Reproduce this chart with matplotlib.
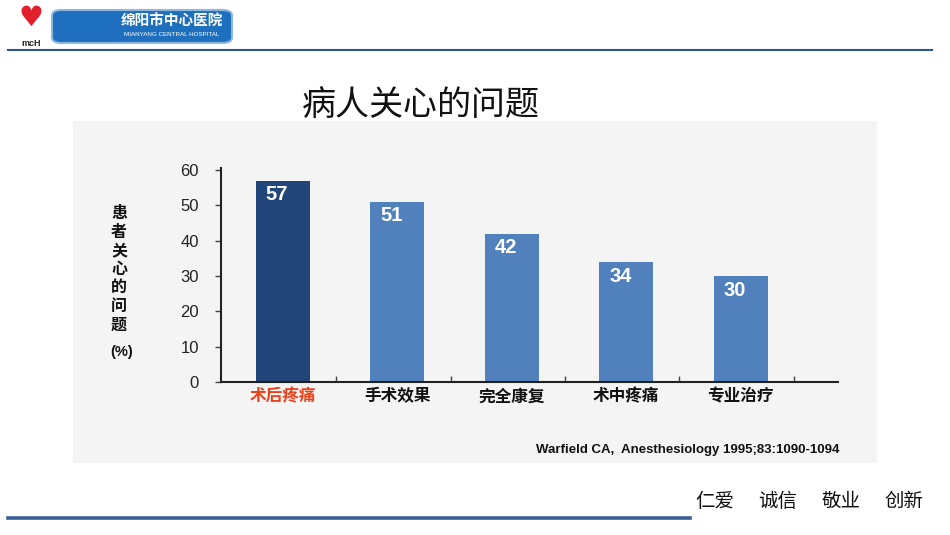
import matplotlib
matplotlib.use("Agg")
import matplotlib.pyplot as plt
from matplotlib.patches import Rectangle, FancyBboxPatch
from matplotlib.lines import Line2D

categories = ["术后疼痛", "手术效果", "完全康复", "术中疼痛", "专业治疗"]
values = [57, 51, 42, 34, 30]
yticks = [0, 10, 20, 30, 40, 50, 60]
bar_colors = ["#22467a", "#5181bd", "#5181bd", "#5181bd", "#5181bd"]
label_colors = ["#e8431c", "#111111", "#111111", "#111111", "#111111"]
title = "病人关心的问题"
ylabel_chars = list("患者关心的问题")
citation = "Warfield CA,  Anesthesiology 1995;83:1090-1094"
motto = ["仁爱", "诚信", "敬业", "创新"]

W, H = 950, 535
plt.rcParams['font.family'] = ['Liberation Sans', 'Noto Sans CJK SC', 'DejaVu Sans']
fig = plt.figure(figsize=(W / 100, H / 100), dpi=100)
fig.patch.set_facecolor("white")

def fx(x):
    return x / W

def fy(y):
    return 1 - y / H

# inner panel background
fig.patches.append(Rectangle((fx(73), fy(463)), fx(877 - 73), (463 - 121) / H,
                             transform=fig.transFigure, facecolor="#f4f4f4",
                             edgecolor="none", zorder=-2))

# header
fig.patches.append(FancyBboxPatch((fx(52), fy(43)), fx(232 - 52), (43 - 10) / H,
                                  boxstyle="round,pad=0,rounding_size=0.01",
                                  transform=fig.transFigure, facecolor="#1e6fbd",
                                  edgecolor="#8fb8e0", linewidth=1.5, zorder=1))
fig.text(fx(172), fy(21), "绵阳市中心医院", color="white", fontsize=10.5,
         fontweight="bold", ha="center", va="center", family=['Noto Sans CJK SC'])
fig.text(fx(172), fy(34), "MIANYANG CENTRAL HOSPITAL", color="white", fontsize=4.5,
         ha="center", va="center")
fig.text(fx(31), fy(18), "♥", color="#e0202a", fontsize=20, ha="center", va="center",
         family=['DejaVu Sans'])
fig.text(fx(31), fy(43), "mcH", color="#222222", fontsize=6.5, fontweight="bold",
         ha="center", va="center")
fig.lines.append(Line2D([fx(8), fx(932)], [fy(50), fy(50)], transform=fig.transFigure,
                        color="#2f5597", linewidth=1.5))

# footer
fig.lines.append(Line2D([fx(8), fx(690)], [fy(517.5), fy(517.5)], transform=fig.transFigure,
                        color="#3a5f94", linewidth=2.6))
for i, word in enumerate(motto):
    fig.text(fx(715 + i * 63), fy(501.5), word, fontsize=14, ha="center", va="center",
             color="#111111", family=['Noto Sans CJK SC'])

# title
fig.text(fx(421), fy(106), title, fontsize=24.5, ha="center", va="center",
         color="#111111", family=['Noto Sans CJK SC'])

# chart axes
ax = fig.add_axes([fx(221), fy(382), fx(838 - 221), (382 - 168) / H])
ax.set_facecolor("none")
x = list(range(len(categories)))
bars = ax.bar(x, values, width=0.47, color=bar_colors, zorder=2)
for xi, v in zip(x, values):
    ax.text(xi - 0.05, v - 1.3, str(v), color="white", fontsize=14.5, fontweight="bold",
            ha="center", va="top")
ax.set_xlim(-0.54, 4.85)
ax.set_ylim(0, 60.6)
ax.set_yticks(yticks)
ax.set_yticklabels([str(t) for t in yticks], fontsize=12, color="#222222")
ax.set_xticks([i + 0.465 for i in x])
ax.set_xticklabels([])
ax.tick_params(axis="x", direction="in", length=4, width=1, color="#444444")
ax.tick_params(axis="y", direction="out", length=4, width=1, color="#444444", pad=12)
for s in ["top", "right"]:
    ax.spines[s].set_visible(False)
for s in ["left", "bottom"]:
    ax.spines[s].set_color("#222222")
    ax.spines[s].set_linewidth(1.5)
for xi, lab, c in zip(x, categories, label_colors):
    ax.text(xi, -1.6, lab, color=c, fontsize=12, fontweight="bold", ha="center", va="top",
            family=['Noto Sans CJK SC'])

# y label: stacked characters
for i, ch in enumerate(ylabel_chars):
    fig.text(fx(119), fy(213 + i * 18.6), ch, fontsize=11.5, fontweight="bold",
             ha="center", va="center", color="#111111", family=['Noto Sans CJK SC'])
fig.text(fx(122), fy(352), "(%)", fontsize=10.5, fontweight="bold", ha="center",
         va="center", color="#111111")

# citation
fig.text(fx(839), fy(450), citation, fontsize=9.5, fontweight="bold", ha="right",
         va="center", color="#111111")

fig.savefig("out.png", dpi=100, facecolor="white")
